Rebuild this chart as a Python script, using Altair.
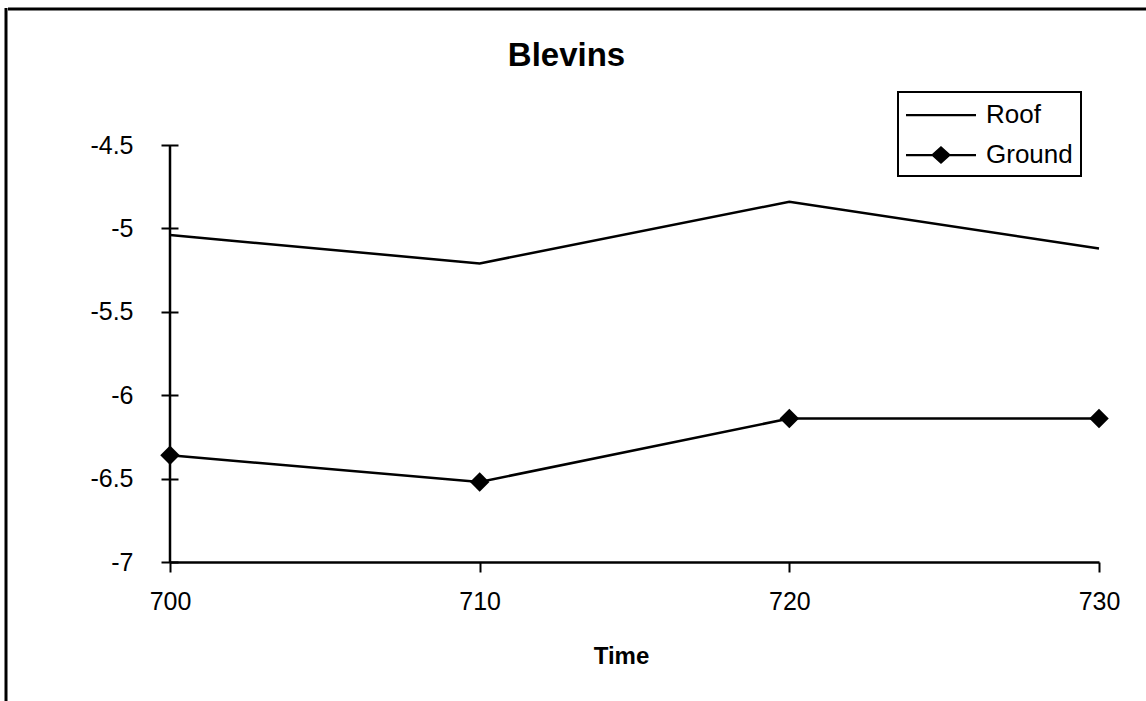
import altair as alt
import pandas as pd

times = [700, 710, 720, 730]
roof = [-5.04, -5.21, -4.84, -5.12]
ground = [-6.36, -6.52, -6.14, -6.14]
series_names = ["Roof", "Ground"]
y_ticks = [-7, -6.5, -6, -5.5, -5, -4.5]
x_ticks = [700, 710, 720, 730]

rows = []
for t, v in zip(times, roof):
    rows.append({"Time": t, "Value": v, "Series": "Roof"})
for t, v in zip(times, ground):
    rows.append({"Time": t, "Value": v, "Series": "Ground"})
df = pd.DataFrame(rows)

FONT = "Liberation Sans"

xscale = alt.Scale(domain=[700, 730], nice=False, zero=False)
yscale = alt.Scale(domain=[-7, -4.5], nice=False, zero=False)

x_enc = alt.X("Time:Q", scale=xscale, title="Time",
              axis=alt.Axis(values=x_ticks, format="d", grid=False, labelFlush=False,
                            domainWidth=2.5, domainColor="black",
                            tickSize=10, tickWidth=2, tickColor="black",
                            labelFontSize=25, labelPadding=17, labelColor="black",
                            titleFontSize=24, titleFontWeight="bold",
                            titlePadding=30, titleColor="black", titleX=451))
y_enc = alt.Y("Value:Q", scale=yscale, title=None,
              axis=alt.Axis(values=y_ticks, grid=False, domain=False, labelFlush=False,
                            offset=-8, tickSize=17, tickWidth=2, tickColor="black",
                            labelFontSize=25, labelPadding=28, labelColor="black",
                            labelExpr="'' + datum.value"))

base = alt.Chart(df)

lines = base.mark_line(color="black", strokeWidth=2.5).encode(
    x=x_enc, y=y_enc, detail="Series:N"
)

points = base.transform_filter(alt.datum.Series == "Ground").mark_point(
    shape="diamond", filled=True, color="black", size=380, opacity=1
).encode(x="Time:Q", y="Value:Q")

# legend glyphs: a thin bar (line sample), plus a diamond for Ground
roof_path = "M-1,-0.075L3.667,-0.075L3.667,0.075L-1,0.075Z"
ground_path = ("M-1,-0.075L3.667,-0.075L3.667,0.075L-1,0.075Z"
               "M1.333,-0.6L2,0L1.333,0.6L0.667,0Z")

legend_layer = base.mark_point(opacity=0, fill="black", stroke="black", strokeWidth=2).encode(
    x="Time:Q", y="Value:Q",
    shape=alt.Shape("Series:N",
                    scale=alt.Scale(domain=series_names, range=[roof_path, ground_path]),
                    legend=alt.Legend(title=None, orient="none",
                                      legendX=728, legendY=-53,
                                      symbolSize=900, symbolOpacity=1,
                                      symbolFillColor="black", symbolStrokeColor="black",
                                      symbolStrokeWidth=0,
                                      labelOffset=50, labelFontSize=26, labelColor="black",
                                      labelFont=FONT,
                                      rowPadding=12, padding=8,
                                      strokeColor="black"))
)

axis_line = alt.Chart(pd.DataFrame({"a": [0]})).mark_rule(color="black", strokeWidth=2.5).encode(
    x=alt.datum(700, scale=xscale), y=alt.datum(-7, scale=yscale), y2=alt.datum(-4.5)
)

border_top = alt.Chart(pd.DataFrame({"a": [0]})).mark_rule(color="black", strokeWidth=3).encode(
    x=alt.value(-162), x2=alt.value(990), y=alt.value(-136)
)
border_left = alt.Chart(pd.DataFrame({"a": [0]})).mark_rule(color="black", strokeWidth=3).encode(
    x=alt.value(-164), y=alt.value(-137), y2=alt.value(570)
)

chart = alt.layer(lines, points, legend_layer, axis_line, border_top, border_left).properties(
    width=929, height=417,
    autosize=alt.AutoSizeParams(type="none"),
    padding={"left": 170, "top": 145, "right": 47, "bottom": 139},
    title=alt.TitleParams("Blevins", fontSize=33, fontWeight="bold", font=FONT,
                          anchor="middle", dx=-68, offset=-92, baseline="alphabetic",
                          color="black"),
    background="white",
).configure_view(stroke=None).configure_axis(
    labelFont=FONT, titleFont=FONT
).configure_legend(strokeWidth=2)

chart.save("out.html", embed_options={"renderer": "svg", "actions": False})
